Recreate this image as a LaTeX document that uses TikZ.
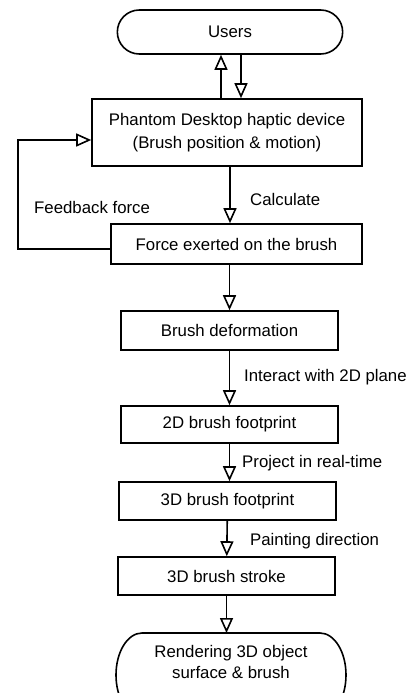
\documentclass[tikz,border=0pt]{standalone}
\usepackage{fontspec}
\setmainfont{Liberation Sans}
\usetikzlibrary{arrows.meta,positioning,shapes.misc,calc}
\tikzset{
  stage/.style={rectangle,draw,line width=1.6pt,align=center,inner sep=2pt},
  terminal/.style={rounded rectangle,draw,line width=1.6pt,align=center},
  flow/.style={-{Triangle[open,length=15pt,width=13pt]},line width=1.6pt},
  note/.style={anchor=west,inner sep=0pt}
}

\begin{document}
\begin{tikzpicture}[x=1pt,y=-1pt,font=\fontsize{16.8}{21}\selectfont]
  \useasboundingbox (0,0) rectangle (407,693);
  \node[terminal,minimum width=232pt,minimum height=44pt] (users) at (230,32) {Users};
  \node[stage,minimum width=270pt,minimum height=67pt] (phantom) at (227,132.5)
    {Phantom Desktop haptic device\\[2pt](Brush position \& motion)};
  \node[stage,minimum width=251pt,minimum height=40pt] (force) at (236.5,244) {Force exerted on the brush};
  \node[stage,minimum width=217pt,minimum height=39pt] (deform) at (229.5,330.5) {Brush deformation};
  \node[stage,minimum width=217pt,minimum height=37pt] (fp2d) at (229.5,424.5) {2D brush footprint};
  \node[stage,minimum width=217pt,minimum height=38pt] (fp3d) at (227.5,501) {3D brush footprint};
  \node[stage,minimum width=217pt,minimum height=38pt] (stroke) at (226.5,576) {3D brush stroke};
  % last stage, cut by the bottom edge
  \node[align=center,inner sep=0pt] (render) at (231,662) {Rendering 3D object\\surface \& brush};
  \coordinate (rtop) at (231,633);
  \draw[line width=1.6pt] (142,633) -- (320,633)
    arc[start angle=90,end angle=-90,x radius=26pt,y radius=42pt] -- (142,717)
    arc[start angle=270,end angle=90,x radius=26pt,y radius=42pt] -- cycle;

  \draw[flow] ([xshift=-6pt]phantom.north) -- ([xshift=-6pt]phantom.north |- users.south);
  \draw[flow] ([xshift=14pt]phantom.north |- users.south) -- ([xshift=14pt]phantom.north);
  \draw[flow] ([xshift=3pt]phantom.south) -- ([xshift=3pt]phantom.south |- force.north);
  \draw[flow] (deform.north |- force.south) -- (deform.north);
  \draw[flow] (deform) -- (fp2d);
  \draw[flow] (fp2d.south) -- (fp2d.south |- fp3d.north);
  \draw[flow] (fp3d) -- (stroke);
  \draw[flow] (stroke.south) -- (stroke.south |- rtop);
  \draw[flow] ([yshift=-5pt]force.west) -- ++(-92,0) |- ([yshift=-7.5pt]phantom.west);

  \node[note] (lfeed) at (34,207) {Feedback force};
  \node[note] (lcalc) at (250,199) {Calculate};
  \node[note] (lplane) at (244,377) {Interact with 2D plane};
  \node[note] (lproj) at (242,463) {Project in real-time};
  \node[note] (lpaint) at (250,541) {Painting direction};
\end{tikzpicture}
\end{document}
